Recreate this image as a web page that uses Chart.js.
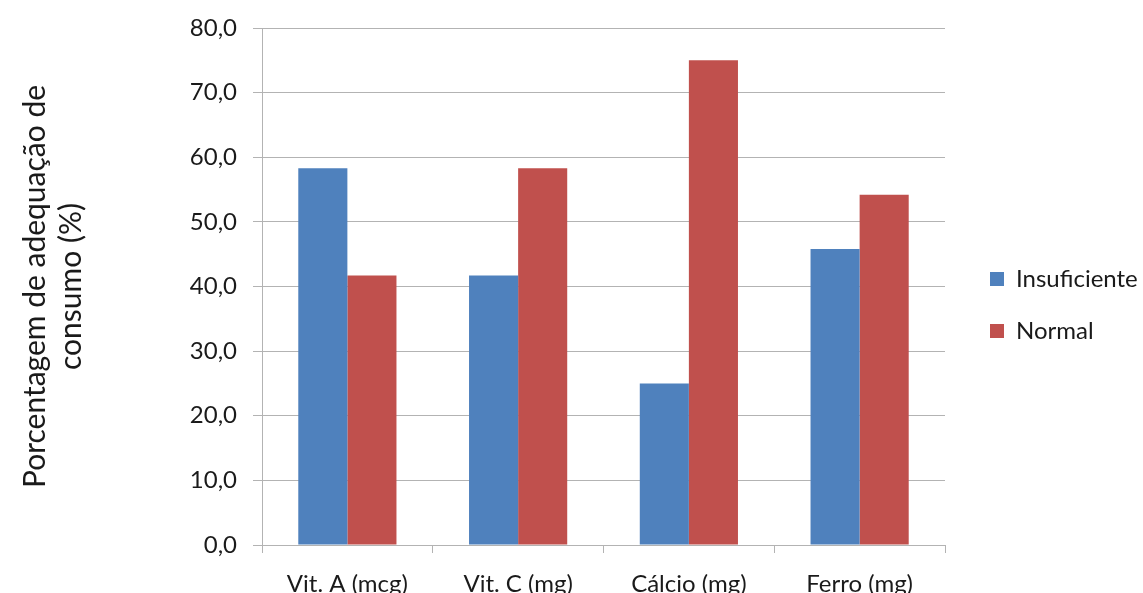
<!DOCTYPE html>
<html>
<head>
<meta charset="utf-8">
<script src="https://cdn.jsdelivr.net/npm/chart.js@4.4.1/dist/chart.umd.min.js"></script>
<style>
  html, body { margin: 0; padding: 0; background: #ffffff; overflow: hidden; }
  #wrap { width: 1143px; height: 593px; position: relative; }
</style>
</head>
<body>
<div id="wrap"><canvas id="chart"></canvas></div>
<script>
// Nutrient categories and percentage of adequate intake per group
const categories = ['Vit. A (mcg)', 'Vit. C (mg)', 'Cálcio (mg)', 'Ferro (mg)'];
const insuficiente = [58.3, 41.7, 25.0, 45.8];
const normal = [41.7, 58.3, 75.0, 54.2];
const seriesNames = ['Insuficiente', 'Normal'];
const yTitleLines = ['Porcentagem de adequação de', 'consumo (%)'];

const FONT = 'Lato, "Open Sans", sans-serif';
const GRID = '#b3b3b3';
const TEXT = '#1a1a1a';

new Chart(document.getElementById('chart'), {
  type: 'bar',
  data: {
    labels: categories,
    datasets: [
      { label: seriesNames[0], data: insuficiente, backgroundColor: '#4f81bd', borderWidth: 0 },
      { label: seriesNames[1], data: normal, backgroundColor: '#c0504d', borderWidth: 0 }
    ]
  },
  options: {
    responsive: true,
    maintainAspectRatio: false,
    animation: false,
    layout: { padding: { top: 28, right: 0, bottom: 0, left: 0 } },
    datasets: { bar: { categoryPercentage: 0.575, barPercentage: 1.0 } },
    plugins: {
      tooltip: { enabled: false },
      legend: {
        position: 'right',
        align: 'center',
        fullSize: false,
        maxWidth: 181,
        // blank title block nudges the legend items down beside the plot
        title: {
          display: true,
          text: ' ',
          font: { family: FONT, size: 20 },
          padding: { top: 0, bottom: 13 }
        },
        labels: {
          color: TEXT,
          font: { family: FONT, size: 24 },
          boxWidth: 14,
          boxHeight: 14,
          padding: 28
        }
      }
    },
    scales: {
      x: {
        afterFit: s => { s.height = 48; },
        grid: {
          display: true,
          drawOnChartArea: false,
          drawTicks: true,
          tickLength: 8,
          color: GRID,
          offset: true
        },
        border: { display: true, color: GRID, width: 1 },
        ticks: { color: TEXT, font: { family: FONT, size: 24 }, padding: 17 }
      },
      y: {
        min: 0,
        max: 80,
        afterFit: s => { s.width = 262; s.paddingTop = 0; s.paddingBottom = 0; },
        grid: { color: GRID, tickLength: 9, drawTicks: true },
        border: { display: true, color: GRID, width: 1 },
        ticks: {
          stepSize: 10,
          color: TEXT,
          font: { family: FONT, size: 24 },
          padding: 16,
          callback: v => v.toFixed(1).replace('.', ',')
        },
        title: {
          display: true,
          text: yTitleLines,
          color: TEXT,
          font: { family: FONT, size: 30 },
          padding: { top: 17, bottom: 0 }
        }
      },
      // empty right-hand axis: spacing between plot and legend
      gap: {
        type: 'linear',
        axis: 'y',
        position: 'right',
        display: true,
        afterFit: s => { s.width = 17; },
        grid: { display: false },
        border: { display: false },
        ticks: { display: false }
      }
    }
  }
});
</script>
</body>
</html>
